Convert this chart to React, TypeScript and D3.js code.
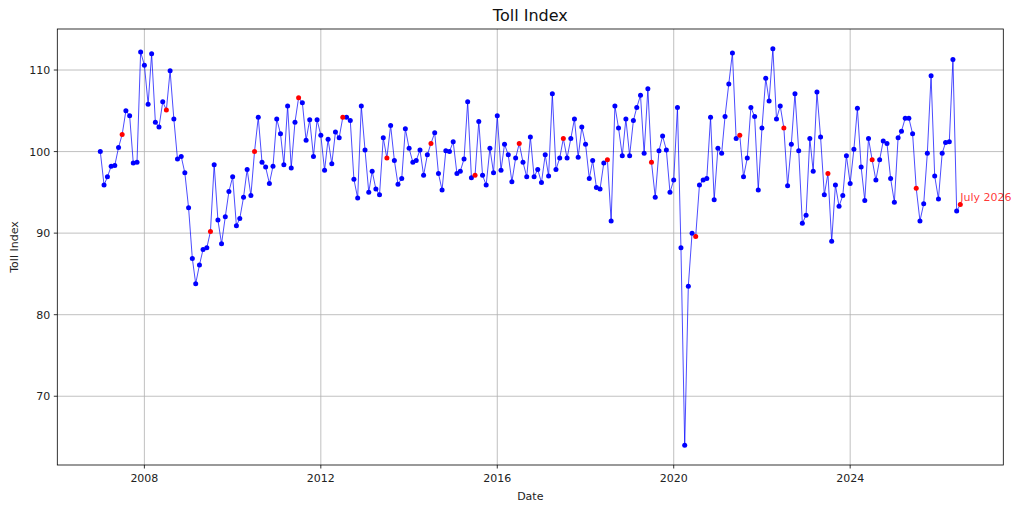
import * as d3 from 'd3';

// monthly toll index, Jan 2007 .. Jul 2026
const startYear = 2007;
const values: number[] = [
  // 2007
  100.0, 95.9, 96.9, 98.2, 98.3, 100.5, 102.1, 105.0, 104.4, 98.6, 98.7, 112.2,
  // 2008
  110.6, 105.8, 112.0, 103.6, 103.0, 106.1, 105.1, 109.9, 104.0, 99.1, 99.4, 97.4,
  // 2009
  93.1, 86.9, 83.8, 86.1, 88.0, 88.2, 90.2, 98.4, 91.6, 88.7, 92.0, 95.1,
  // 2010
  96.9, 90.9, 91.8, 94.4, 97.8, 94.6, 100.0, 104.2, 98.7, 98.1, 96.1, 98.2,
  // 2011
  104.0, 102.2, 98.4, 105.6, 98.0, 103.6, 106.6, 106.0, 101.4, 103.9, 99.4, 103.9,
  // 2012
  102.0, 97.7, 101.5, 98.5, 102.4, 101.7, 104.2, 104.2, 103.8, 96.6, 94.3, 105.6,
  // 2013
  100.2, 95.0, 97.6, 95.4, 94.7, 101.7, 99.2, 103.2, 98.9, 96.0, 96.7, 102.8,
  // 2014
  100.4, 98.7, 98.9, 100.2, 97.1, 99.6, 101.0, 102.3, 97.3, 95.3, 100.1, 100.0,
  // 2015
  101.2, 97.3, 97.6, 99.1, 106.1, 96.8, 97.1, 103.7, 97.1, 95.9, 100.4, 97.4,
  // 2016
  104.4, 97.7, 100.9, 99.6, 96.3, 99.2, 101.0, 98.7, 96.9, 101.8, 96.9, 97.8,
  // 2017
  96.2, 99.6, 97.0, 107.1, 97.8, 99.2, 101.6, 99.2, 101.6, 104.0, 99.3, 103.0,
  // 2018
  100.9, 96.7, 98.9, 95.6, 95.4, 98.6, 99.0, 91.5, 105.6, 102.9, 99.5, 104.0,
  // 2019
  99.5, 103.8, 105.4, 106.9, 99.8, 107.7, 98.7, 94.4, 100.1, 101.9, 100.2, 95.0,
  // 2020
  96.5, 105.4, 88.2, 64.0, 83.5, 90.0, 89.6, 95.9, 96.5, 96.7, 104.2, 94.1,
  // 2021
  100.4, 99.8, 104.3, 108.3, 112.1, 101.6, 102.0, 96.9, 99.2, 105.4, 104.3, 95.3,
  // 2022
  102.9, 109.0, 106.2, 112.6, 104.0, 105.6, 102.9, 95.8, 100.9, 107.1, 100.1, 91.2,
  // 2023
  92.2, 101.6, 97.6, 107.3, 101.8, 94.7, 97.3, 89.0, 95.9, 93.3, 94.6, 99.5,
  // 2024
  96.1, 100.3, 105.3, 98.1, 94.0, 101.6, 99.0, 96.5, 99.0, 101.3, 101.0, 96.7,
  // 2025
  93.8, 101.7, 102.5, 104.1, 104.1, 102.2, 95.5, 91.5, 93.6, 99.8, 109.3, 97.0,
  // 2026
  94.2, 99.8, 101.1, 101.2, 111.3, 92.7, 93.5,
];

const xTickYears = [2008, 2012, 2016, 2020, 2024];
const yTicks = [70, 80, 90, 100, 110];
const highlightMonth = 6; // July
const annotationText = 'July 2026';

interface Point {
  date: Date;
  value: number;
}

const data: Point[] = values.map((v, i) => ({
  date: new Date(startYear + Math.floor(i / 12), i % 12, 1),
  value: v,
}));

const W = 1024;
const H = 511;
const left = 57.3;
const right = 1003.3;
const top = 29;
const bottom = 465;
const font = '"DejaVu Sans", sans-serif';

const App: React.FC = () => {
  const [d0, d1] = d3.extent(data, (d) => d.date) as [Date, Date];
  const span = d1.getTime() - d0.getTime();
  const x = d3
    .scaleTime()
    .domain([new Date(d0.getTime() - span * 0.05), new Date(d1.getTime() + span * 0.05)])
    .range([left, right]);

  const [v0, v1] = d3.extent(values) as [number, number];
  const vpad = (v1 - v0) * 0.05;
  const y = d3
    .scaleLinear()
    .domain([v0 - vpad, v1 + vpad])
    .range([bottom, top]);

  const line = d3
    .line<Point>()
    .x((d) => x(d.date))
    .y((d) => y(d.value));

  // july points get painted red on top of the blue series
  const highlights = data.filter((d) => d.date.getMonth() === highlightMonth);
  const last = data[data.length - 1];

  return (
    <svg
      width={W}
      height={H}
      style={{ position: 'absolute', left: 0, top: 0, background: '#fff' }}
      fontFamily={font}
    >
      <rect x={0} y={0} width={W} height={H} fill="#fff" />
      {/* grid */}
      {xTickYears.map((yr) => {
        const px = x(new Date(yr, 0, 1));
        return (
          <line key={'gx' + yr} x1={px} x2={px} y1={top} y2={bottom} stroke="#b0b0b0" strokeWidth={0.8} />
        );
      })}
      {yTicks.map((t) => (
        <line key={'gy' + t} x1={left} x2={right} y1={y(t)} y2={y(t)} stroke="#b0b0b0" strokeWidth={0.8} />
      ))}

      {/* series */}
      <path d={line(data) ?? ''} fill="none" stroke="blue" strokeOpacity={0.7} strokeWidth={1} />
      {data.map((d, i) =>
        d.date.getMonth() === highlightMonth ? null : (
          <circle key={'p' + i} cx={x(d.date)} cy={y(d.value)} r={2.5} fill="blue" />
        )
      )}
      {highlights.map((d, i) => (
        <circle key={'h' + i} cx={x(d.date)} cy={y(d.value)} r={2.5} fill="red" />
      ))}
      <text
        x={x(last.date)}
        y={y(last.value) - 4}
        fontSize={11}
        fill="red"
        fillOpacity={0.8}
      >
        {annotationText}
      </text>

      {/* frame */}
      <rect x={left} y={top} width={right - left} height={bottom - top} fill="none" stroke="#000" strokeWidth={0.8} />

      {/* x ticks */}
      {xTickYears.map((yr) => {
        const px = x(new Date(yr, 0, 1));
        return (
          <g key={'tx' + yr}>
            <line x1={px} x2={px} y1={bottom} y2={bottom + 3.5} stroke="#000" strokeWidth={0.8} />
            <text x={px} y={bottom + 17} fontSize={11} textAnchor="middle" fill="#222">
              {yr}
            </text>
          </g>
        );
      })}
      {/* y ticks */}
      {yTicks.map((t) => (
        <g key={'ty' + t}>
          <line x1={left - 3.5} x2={left} y1={y(t)} y2={y(t)} stroke="#000" strokeWidth={0.8} />
          <text x={left - 7} y={y(t) + 4} fontSize={11} textAnchor="end" fill="#222">
            {t}
          </text>
        </g>
      ))}

      {/* labels */}
      <text x={(left + right) / 2} y={21.3} fontSize={16} textAnchor="middle" fill="#111">
        Toll Index
      </text>
      <text x={(left + right) / 2} y={500} fontSize={11} textAnchor="middle" fill="#222">
        Date
      </text>
      <text
        transform={`translate(18,${(top + bottom) / 2}) rotate(-90)`}
        fontSize={11}
        textAnchor="middle"
        fill="#222"
      >
        Toll Index
      </text>
    </svg>
  );
};

export default App;
